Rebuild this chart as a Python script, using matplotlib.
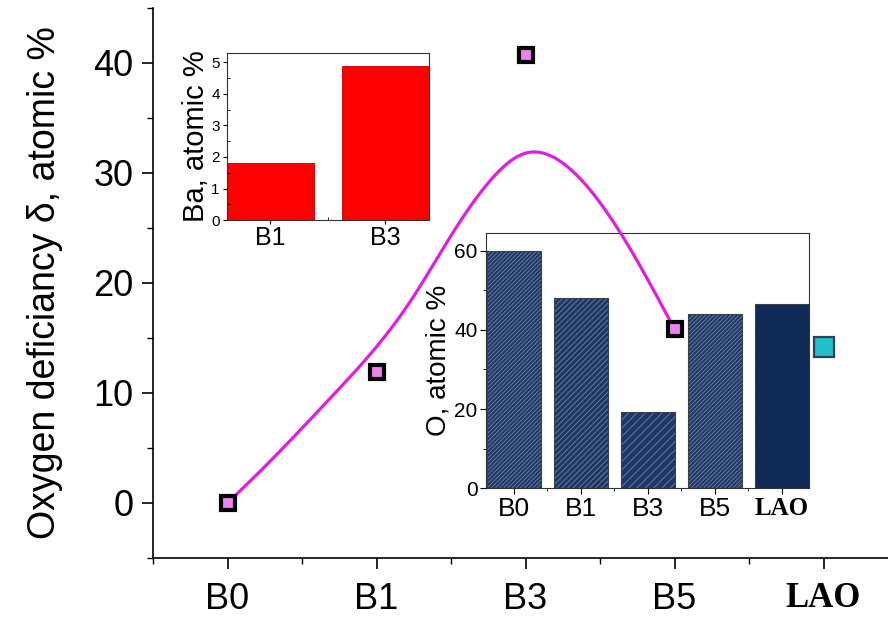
import numpy as np
import matplotlib
matplotlib.use("Agg")
import matplotlib.pyplot as plt
from matplotlib.ticker import MultipleLocator

plt.rcParams['font.family'] = ['Liberation Sans', 'DejaVu Sans']
plt.rcParams['hatch.linewidth'] = 0.6

# oxygen deficiency per sample
samples = ["B0", "B1", "B3", "B5", "LAO"]
delta = [0.0, 11.9, 40.7, 15.8, 14.2]

# guide curve through the doped samples
curve_x = [0, 0.25, 0.5, 0.75, 1.0, 1.25, 1.5, 1.75, 2.0, 2.25, 2.5, 2.75, 3.0]
curve_y = [0.0, 3.3, 6.8, 10.4, 14.2, 18.8, 24.3, 29.1, 31.8, 30.9, 27.3,
           22.0, 15.8]

# Ba content (inset 1)
ba_samples = ["B1", "B3"]
ba_pct = [1.8, 4.9]

# O content (inset 2)
o_samples = ["B0", "B1", "B3", "B5", "LAO"]
o_pct = [60.0, 48.1, 19.3, 44.1, 46.5]
o_hatch = ["////////", "//////", "////", "////////", ""]


def natural_spline(xk, yk, n=300):
    # natural cubic spline through the knots
    xk = np.asarray(xk, float)
    yk = np.asarray(yk, float)
    h = np.diff(xk)
    m = len(xk)
    A = np.zeros((m, m))
    r = np.zeros(m)
    A[0, 0] = A[-1, -1] = 1
    for i in range(1, m - 1):
        A[i, i - 1] = h[i - 1]
        A[i, i] = 2 * (h[i - 1] + h[i])
        A[i, i + 1] = h[i]
        r[i] = 6 * ((yk[i + 1] - yk[i]) / h[i] - (yk[i] - yk[i - 1]) / h[i - 1])
    M = np.linalg.solve(A, r)
    xs = np.linspace(xk[0], xk[-1], n)
    idx = np.clip(np.searchsorted(xk, xs) - 1, 0, m - 2)
    x0, x1 = xk[idx], xk[idx + 1]
    hh = x1 - x0
    a = (x1 - xs) / hh
    b = (xs - x0) / hh
    ys = (a * yk[idx] + b * yk[idx + 1]
          + ((a ** 3 - a) * M[idx] + (b ** 3 - b) * M[idx + 1]) * hh ** 2 / 6)
    return xs, ys


fig = plt.figure(figsize=(8.88, 6.18), dpi=100)
fig.patch.set_facecolor("white")

# main axes (right edge runs past the figure)
ax = fig.add_axes([0.1723, 0.0971, 0.839, 0.890])
ax.set_zorder(5)
ax.patch.set_visible(False)
x = np.arange(len(samples))
sx, sy = natural_spline(curve_x, curve_y)
ax.plot(sx, sy, color="#e01ee0", lw=2.3, zorder=2)
ax.plot(x[:4], delta[:4], ls="none", marker="s", ms=10, mfc="#f080f0",
        mec="black", mew=3, zorder=3)
ax.plot(x[4], delta[4], ls="none", marker="s", ms=15, mfc="#22c0cc",
        mec="#2b3f5c", mew=1.6, zorder=3)
ax.set_xlim(-0.5, 4.5)
ax.set_ylim(-5, 45)
ax.set_xticks(x)
ax.set_xticklabels(samples)
ax.xaxis.set_minor_locator(MultipleLocator(0.5))
ax.set_yticks([0, 10, 20, 30, 40])
ax.yaxis.set_minor_locator(MultipleLocator(5))
for s in ["top", "right"]:
    ax.spines[s].set_visible(False)
for s in ["left", "bottom"]:
    ax.spines[s].set_linewidth(1.2)
ax.tick_params(which="major", direction="out", length=8, width=1.2,
               labelsize=26, pad=6)
ax.tick_params(axis="x", pad=9)
ax.tick_params(which="minor", direction="out", length=4, width=1.0)
ax.get_xticklabels()[-1].set_fontfamily("Liberation Serif")
ax.get_xticklabels()[-1].set_fontweight("bold")
ax.get_xticklabels()[-1].set_fontsize(25)
ax.set_ylabel("Oxygen deficiancy δ, atomic %", fontsize=27, labelpad=22)

# Ba inset
axb = fig.add_axes([0.2553, 0.644, 0.2278, 0.2702])
axb.set_zorder(2)
bx = np.arange(1, len(ba_samples) + 1)
axb.bar(bx, ba_pct, width=0.76, color="#ff0000", edgecolor="#c00000", lw=0.6)
axb.set_xlim(0.62, 2.38)
axb.set_ylim(0, 5.3)
axb.set_xticks(bx)
axb.set_xticklabels(ba_samples, fontsize=18)
axb.xaxis.set_minor_locator(MultipleLocator(0.5))
axb.set_yticks(range(6))
axb.yaxis.set_minor_locator(MultipleLocator(0.5))
axb.tick_params(axis="y", labelsize=11, pad=2)
axb.tick_params(which="major", direction="out", length=3, width=0.8)
axb.tick_params(which="minor", direction="in", length=2, width=0.6)
axb.tick_params(axis="x", pad=1)
for s in axb.spines.values():
    s.set_linewidth(0.8)
    s.set_color("#333333")
axb.set_ylabel("Ba, atomic %", fontsize=21, labelpad=1)

# O inset
axo = fig.add_axes([0.547, 0.2099, 0.3641, 0.4136])
axo.set_zorder(2)
ox = np.arange(len(o_samples))
for xi, val, h in zip(ox, o_pct, o_hatch):
    if h:
        axo.bar(xi, val, width=0.81, color="#1f3863", edgecolor="#6f82a6",
                lw=0, hatch=h)
    else:
        axo.bar(xi, val, width=0.81, color="#0e2a55", lw=0)
axo.bar(ox, o_pct, width=0.81, fill=False, edgecolor="#3a3f4a", lw=0.8)
axo.set_xlim(-0.42, 4.41)
axo.set_ylim(0, 64.5)
axo.set_xticks(ox)
axo.set_xticklabels(o_samples, fontsize=19)
axo.get_xticklabels()[-1].set_fontfamily("Liberation Serif")
axo.get_xticklabels()[-1].set_fontweight("bold")
axo.get_xticklabels()[-1].set_fontsize(18)
axo.xaxis.set_minor_locator(MultipleLocator(0.5))
axo.set_yticks([0, 20, 40, 60])
axo.yaxis.set_minor_locator(MultipleLocator(10))
axo.tick_params(axis="y", labelsize=15, pad=2)
axo.tick_params(axis="x", pad=2)
axo.tick_params(which="major", direction="out", length=4, width=0.8)
axo.tick_params(which="minor", direction="out", length=2, width=0.6)
for s in axo.spines.values():
    s.set_linewidth(0.8)
    s.set_color("#333333")
axo.set_ylabel("O, atomic %", fontsize=20, labelpad=2)

fig.savefig("out.png", dpi=100, facecolor="white")
